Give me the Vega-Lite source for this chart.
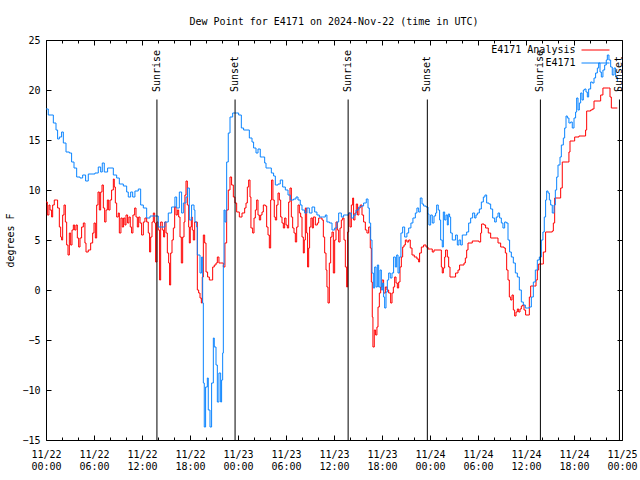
{
"$schema": "https://vega.github.io/schema/vega-lite/v6.json",
"width": 576, "height": 400,
"autosize": "none",
"padding": {"left": 46, "top": 40, "right": 18, "bottom": 40},
"title": {"text": "Dew Point for E4171 on 2024-Nov-22 (time in UTC)", "font": "DejaVu Sans Mono", "fontSize": 10, "fontWeight": "normal", "color": "black", "anchor": "middle", "baseline": "alphabetic", "offset": 0},
"config": {
  "font": "DejaVu Sans Mono",
  "view": {"stroke": "black", "strokeWidth": 1},
  "axis": {"domain": false, "grid": false, "labelFont": "DejaVu Sans Mono", "labelFontSize": 10, "labelColor": "black", "tickColor": "black", "tickWidth": 1, "titleFont": "DejaVu Sans Mono", "titleFontSize": 10, "titleFontWeight": "normal", "titleColor": "black"}
},
"datasets": {
"analysis": [
{"t":"2024-11-22T00:00Z","v":8.8},{"t":"2024-11-22T00:10Z","v":7.5},{"t":"2024-11-22T00:22Z","v":8.5},{"t":"2024-11-22T00:30Z","v":8.0},{"t":"2024-11-22T00:42Z","v":7.3},{"t":"2024-11-22T00:50Z","v":8.5},{"t":"2024-11-22T01:02Z","v":9.0},{"t":"2024-11-22T01:20Z","v":9.0},{"t":"2024-11-22T01:27Z","v":8.2},{"t":"2024-11-22T01:40Z","v":6.3},{"t":"2024-11-22T01:50Z","v":5.3},{"t":"2024-11-22T01:57Z","v":5.0},{"t":"2024-11-22T02:05Z","v":7.5},{"t":"2024-11-22T02:15Z","v":8.5},{"t":"2024-11-22T02:25Z","v":6.8},{"t":"2024-11-22T02:35Z","v":4.5},{"t":"2024-11-22T02:45Z","v":3.5},{"t":"2024-11-22T02:55Z","v":5.7},{"t":"2024-11-22T03:05Z","v":4.5},{"t":"2024-11-22T03:15Z","v":6.0},{"t":"2024-11-22T03:25Z","v":6.5},{"t":"2024-11-22T03:35Z","v":6.0},{"t":"2024-11-22T03:45Z","v":6.5},{"t":"2024-11-22T03:55Z","v":5.2},{"t":"2024-11-22T04:05Z","v":4.3},{"t":"2024-11-22T04:15Z","v":5.2},{"t":"2024-11-22T04:27Z","v":6.3},{"t":"2024-11-22T04:40Z","v":6.7},{"t":"2024-11-22T04:52Z","v":4.7},{"t":"2024-11-22T05:00Z","v":3.8},{"t":"2024-11-22T05:17Z","v":4.0},{"t":"2024-11-22T05:35Z","v":4.7},{"t":"2024-11-22T05:50Z","v":5.7},{"t":"2024-11-22T06:00Z","v":6.7},{"t":"2024-11-22T06:10Z","v":5.2},{"t":"2024-11-22T06:20Z","v":8.5},{"t":"2024-11-22T06:30Z","v":9.8},{"t":"2024-11-22T06:40Z","v":8.0},{"t":"2024-11-22T06:50Z","v":9.8},{"t":"2024-11-22T07:00Z","v":10.5},{"t":"2024-11-22T07:10Z","v":8.2},{"t":"2024-11-22T07:20Z","v":6.8},{"t":"2024-11-22T07:30Z","v":8.0},{"t":"2024-11-22T07:40Z","v":9.0},{"t":"2024-11-22T07:50Z","v":8.0},{"t":"2024-11-22T08:00Z","v":9.0},{"t":"2024-11-22T08:12Z","v":10.0},{"t":"2024-11-22T08:25Z","v":11.1},{"t":"2024-11-22T08:32Z","v":10.3},{"t":"2024-11-22T08:40Z","v":8.7},{"t":"2024-11-22T08:50Z","v":7.3},{"t":"2024-11-22T09:02Z","v":7.7},{"t":"2024-11-22T09:10Z","v":5.7},{"t":"2024-11-22T09:22Z","v":7.2},{"t":"2024-11-22T09:32Z","v":6.3},{"t":"2024-11-22T09:42Z","v":7.2},{"t":"2024-11-22T09:52Z","v":6.5},{"t":"2024-11-22T10:00Z","v":7.5},{"t":"2024-11-22T10:12Z","v":6.7},{"t":"2024-11-22T10:22Z","v":7.3},{"t":"2024-11-22T10:32Z","v":6.3},{"t":"2024-11-22T10:42Z","v":5.7},{"t":"2024-11-22T10:52Z","v":7.5},{"t":"2024-11-22T11:05Z","v":8.2},{"t":"2024-11-22T11:15Z","v":7.3},{"t":"2024-11-22T11:25Z","v":6.3},{"t":"2024-11-22T11:35Z","v":7.3},{"t":"2024-11-22T11:45Z","v":6.7},{"t":"2024-11-22T11:57Z","v":5.5},{"t":"2024-11-22T12:10Z","v":6.8},{"t":"2024-11-22T12:22Z","v":7.2},{"t":"2024-11-22T12:35Z","v":6.8},{"t":"2024-11-22T12:47Z","v":5.7},{"t":"2024-11-22T12:57Z","v":3.8},{"t":"2024-11-22T13:05Z","v":5.3},{"t":"2024-11-22T13:15Z","v":6.8},{"t":"2024-11-22T13:25Z","v":7.7},{"t":"2024-11-22T13:35Z","v":6.7},{"t":"2024-11-22T13:42Z","v":2.8},{"t":"2024-11-22T13:52Z","v":6.8},{"t":"2024-11-22T14:02Z","v":6.0},{"t":"2024-11-22T14:12Z","v":1.0},{"t":"2024-11-22T14:20Z","v":6.8},{"t":"2024-11-22T14:32Z","v":6.0},{"t":"2024-11-22T14:42Z","v":5.3},{"t":"2024-11-22T14:50Z","v":6.8},{"t":"2024-11-22T15:00Z","v":5.7},{"t":"2024-11-22T15:10Z","v":3.7},{"t":"2024-11-22T15:20Z","v":2.7},{"t":"2024-11-22T15:27Z","v":0.5},{"t":"2024-11-22T15:35Z","v":3.7},{"t":"2024-11-22T15:45Z","v":5.0},{"t":"2024-11-22T15:55Z","v":6.2},{"t":"2024-11-22T16:05Z","v":8.3},{"t":"2024-11-22T16:15Z","v":7.5},{"t":"2024-11-22T16:25Z","v":8.0},{"t":"2024-11-22T16:35Z","v":7.3},{"t":"2024-11-22T16:45Z","v":5.3},{"t":"2024-11-22T16:55Z","v":2.7},{"t":"2024-11-22T17:05Z","v":5.3},{"t":"2024-11-22T17:15Z","v":6.8},{"t":"2024-11-22T17:22Z","v":9.5},{"t":"2024-11-22T17:30Z","v":10.9},{"t":"2024-11-22T17:40Z","v":8.5},{"t":"2024-11-22T17:50Z","v":6.3},{"t":"2024-11-22T17:55Z","v":4.7},{"t":"2024-11-22T18:02Z","v":6.3},{"t":"2024-11-22T18:10Z","v":7.3},{"t":"2024-11-22T18:17Z","v":6.0},{"t":"2024-11-22T18:25Z","v":5.0},{"t":"2024-11-22T18:35Z","v":6.8},{"t":"2024-11-22T18:45Z","v":6.8},{"t":"2024-11-22T18:55Z","v":0.0},{"t":"2024-11-22T19:05Z","v":-0.3},{"t":"2024-11-22T19:15Z","v":-0.8},{"t":"2024-11-22T19:25Z","v":-1.3},{"t":"2024-11-22T19:32Z","v":1.3},{"t":"2024-11-22T19:40Z","v":5.5},{"t":"2024-11-22T19:50Z","v":4.7},{"t":"2024-11-22T20:00Z","v":1.8},{"t":"2024-11-22T20:12Z","v":1.3},{"t":"2024-11-22T20:25Z","v":1.0},{"t":"2024-11-22T20:40Z","v":1.0},{"t":"2024-11-22T20:50Z","v":2.3},{"t":"2024-11-22T21:02Z","v":2.5},{"t":"2024-11-22T21:15Z","v":2.7},{"t":"2024-11-22T21:25Z","v":3.3},{"t":"2024-11-22T21:37Z","v":2.7},{"t":"2024-11-22T21:52Z","v":2.7},{"t":"2024-11-22T22:10Z","v":2.3},{"t":"2024-11-22T22:22Z","v":4.7},{"t":"2024-11-22T22:35Z","v":8.0},{"t":"2024-11-22T22:47Z","v":10.0},{"t":"2024-11-22T23:00Z","v":11.3},{"t":"2024-11-22T23:12Z","v":10.5},{"t":"2024-11-22T23:25Z","v":9.3},{"t":"2024-11-22T23:37Z","v":8.7},{"t":"2024-11-22T23:50Z","v":7.8},
{"t":"2024-11-23T00:10Z","v":7.3},{"t":"2024-11-23T00:30Z","v":7.7},{"t":"2024-11-23T00:50Z","v":8.2},{"t":"2024-11-23T01:00Z","v":8.7},{"t":"2024-11-23T01:10Z","v":10.3},{"t":"2024-11-23T01:20Z","v":11.0},{"t":"2024-11-23T01:30Z","v":9.3},{"t":"2024-11-23T01:37Z","v":6.2},{"t":"2024-11-23T01:50Z","v":5.7},{"t":"2024-11-23T02:00Z","v":7.2},{"t":"2024-11-23T02:10Z","v":8.0},{"t":"2024-11-23T02:20Z","v":9.0},{"t":"2024-11-23T02:30Z","v":7.5},{"t":"2024-11-23T02:40Z","v":7.0},{"t":"2024-11-23T02:50Z","v":7.5},{"t":"2024-11-23T03:00Z","v":7.8},{"t":"2024-11-23T03:10Z","v":8.5},{"t":"2024-11-23T03:25Z","v":8.4},{"t":"2024-11-23T03:35Z","v":6.3},{"t":"2024-11-23T03:45Z","v":5.5},{"t":"2024-11-23T03:55Z","v":4.2},{"t":"2024-11-23T04:05Z","v":9.0},{"t":"2024-11-23T04:12Z","v":11.0},{"t":"2024-11-23T04:22Z","v":9.0},{"t":"2024-11-23T04:32Z","v":7.3},{"t":"2024-11-23T04:40Z","v":7.0},{"t":"2024-11-23T04:50Z","v":8.5},{"t":"2024-11-23T05:00Z","v":9.7},{"t":"2024-11-23T05:10Z","v":9.0},{"t":"2024-11-23T05:20Z","v":7.3},{"t":"2024-11-23T05:30Z","v":6.7},{"t":"2024-11-23T05:40Z","v":6.2},{"t":"2024-11-23T05:50Z","v":7.2},{"t":"2024-11-23T06:00Z","v":6.5},{"t":"2024-11-23T06:10Z","v":6.2},{"t":"2024-11-23T06:20Z","v":8.8},{"t":"2024-11-23T06:30Z","v":10.2},{"t":"2024-11-23T06:40Z","v":7.3},{"t":"2024-11-23T06:50Z","v":6.2},{"t":"2024-11-23T07:00Z","v":5.7},{"t":"2024-11-23T07:10Z","v":4.8},{"t":"2024-11-23T07:20Z","v":6.3},{"t":"2024-11-23T07:30Z","v":8.5},{"t":"2024-11-23T07:40Z","v":7.7},{"t":"2024-11-23T07:50Z","v":7.3},{"t":"2024-11-23T08:00Z","v":5.3},{"t":"2024-11-23T08:10Z","v":3.7},{"t":"2024-11-23T08:17Z","v":5.0},{"t":"2024-11-23T08:25Z","v":8.2},{"t":"2024-11-23T08:35Z","v":5.7},{"t":"2024-11-23T08:42Z","v":2.3},{"t":"2024-11-23T08:50Z","v":4.2},{"t":"2024-11-23T08:57Z","v":6.3},{"t":"2024-11-23T09:07Z","v":7.2},{"t":"2024-11-23T09:17Z","v":6.2},{"t":"2024-11-23T09:25Z","v":7.3},{"t":"2024-11-23T09:40Z","v":6.5},{"t":"2024-11-23T09:55Z","v":6.7},{"t":"2024-11-23T10:05Z","v":7.2},{"t":"2024-11-23T10:17Z","v":7.2},{"t":"2024-11-23T10:30Z","v":7.0},{"t":"2024-11-23T10:40Z","v":5.3},{"t":"2024-11-23T10:50Z","v":3.7},{"t":"2024-11-23T11:00Z","v":2.0},{"t":"2024-11-23T11:07Z","v":0.3},{"t":"2024-11-23T11:15Z","v":-1.3},{"t":"2024-11-23T11:25Z","v":2.7},{"t":"2024-11-23T11:35Z","v":5.3},{"t":"2024-11-23T11:45Z","v":5.8},{"t":"2024-11-23T11:55Z","v":1.7},{"t":"2024-11-23T12:05Z","v":5.0},{"t":"2024-11-23T12:15Z","v":6.8},{"t":"2024-11-23T12:25Z","v":6.0},{"t":"2024-11-23T12:35Z","v":4.8},{"t":"2024-11-23T12:45Z","v":6.2},{"t":"2024-11-23T12:55Z","v":7.0},{"t":"2024-11-23T13:05Z","v":7.2},{"t":"2024-11-23T13:15Z","v":5.0},{"t":"2024-11-23T13:25Z","v":2.3},{"t":"2024-11-23T13:35Z","v":0.3},{"t":"2024-11-23T13:42Z","v":5.8},{"t":"2024-11-23T13:50Z","v":7.7},{"t":"2024-11-23T14:00Z","v":6.3},{"t":"2024-11-23T14:10Z","v":8.5},{"t":"2024-11-23T14:20Z","v":9.2},{"t":"2024-11-23T14:27Z","v":7.0},{"t":"2024-11-23T14:37Z","v":7.7},{"t":"2024-11-23T14:47Z","v":8.6},{"t":"2024-11-23T14:57Z","v":7.5},{"t":"2024-11-23T15:07Z","v":8.2},{"t":"2024-11-23T15:17Z","v":8.5},{"t":"2024-11-23T15:30Z","v":7.5},{"t":"2024-11-23T15:42Z","v":6.8},{"t":"2024-11-23T15:55Z","v":6.0},{"t":"2024-11-23T16:07Z","v":5.7},{"t":"2024-11-23T16:20Z","v":6.3},{"t":"2024-11-23T16:32Z","v":4.2},{"t":"2024-11-23T16:40Z","v":0.8},{"t":"2024-11-23T16:47Z","v":-2.7},{"t":"2024-11-23T16:52Z","v":-5.7},{"t":"2024-11-23T17:02Z","v":-4.0},{"t":"2024-11-23T17:12Z","v":-4.5},{"t":"2024-11-23T17:22Z","v":-3.7},{"t":"2024-11-23T17:30Z","v":-1.7},{"t":"2024-11-23T17:40Z","v":-0.3},{"t":"2024-11-23T17:50Z","v":0.3},{"t":"2024-11-23T18:00Z","v":1.0},{"t":"2024-11-23T18:12Z","v":-0.3},{"t":"2024-11-23T18:25Z","v":0.3},{"t":"2024-11-23T18:37Z","v":0.0},{"t":"2024-11-23T18:50Z","v":-0.3},{"t":"2024-11-23T19:05Z","v":-1.3},{"t":"2024-11-23T19:15Z","v":-0.3},{"t":"2024-11-23T19:25Z","v":0.3},{"t":"2024-11-23T19:35Z","v":1.3},{"t":"2024-11-23T19:45Z","v":0.7},{"t":"2024-11-23T19:55Z","v":0.2},{"t":"2024-11-23T20:05Z","v":0.8},{"t":"2024-11-23T20:15Z","v":2.3},{"t":"2024-11-23T20:25Z","v":3.3},{"t":"2024-11-23T20:35Z","v":4.3},{"t":"2024-11-23T20:45Z","v":4.5},{"t":"2024-11-23T20:55Z","v":5.0},{"t":"2024-11-23T21:07Z","v":4.8},{"t":"2024-11-23T21:20Z","v":5.0},{"t":"2024-11-23T21:32Z","v":4.2},{"t":"2024-11-23T21:45Z","v":3.5},{"t":"2024-11-23T22:02Z","v":3.3},{"t":"2024-11-23T22:22Z","v":3.1},{"t":"2024-11-23T22:35Z","v":2.8},{"t":"2024-11-23T22:42Z","v":3.7},{"t":"2024-11-23T22:55Z","v":4.3},{"t":"2024-11-23T23:12Z","v":4.5},{"t":"2024-11-23T23:30Z","v":4.3},{"t":"2024-11-23T23:45Z","v":4.1},
{"t":"2024-11-24T00:05Z","v":4.1},{"t":"2024-11-24T00:17Z","v":3.8},{"t":"2024-11-24T00:30Z","v":4.0},{"t":"2024-11-24T01:15Z","v":4.0},{"t":"2024-11-24T01:25Z","v":2.3},{"t":"2024-11-24T01:32Z","v":1.7},{"t":"2024-11-24T01:40Z","v":2.2},{"t":"2024-11-24T01:50Z","v":3.3},{"t":"2024-11-24T01:57Z","v":4.0},{"t":"2024-11-24T02:10Z","v":3.3},{"t":"2024-11-24T02:20Z","v":2.3},{"t":"2024-11-24T02:30Z","v":1.3},{"t":"2024-11-24T02:55Z","v":1.3},{"t":"2024-11-24T03:12Z","v":1.7},{"t":"2024-11-24T03:30Z","v":2.0},{"t":"2024-11-24T03:42Z","v":2.5},{"t":"2024-11-24T04:00Z","v":2.5},{"t":"2024-11-24T04:15Z","v":2.7},{"t":"2024-11-24T04:25Z","v":3.2},{"t":"2024-11-24T04:35Z","v":4.0},{"t":"2024-11-24T04:45Z","v":4.7},{"t":"2024-11-24T05:17Z","v":4.9},{"t":"2024-11-24T06:07Z","v":4.8},{"t":"2024-11-24T06:20Z","v":5.7},{"t":"2024-11-24T06:27Z","v":6.6},{"t":"2024-11-24T06:45Z","v":6.5},{"t":"2024-11-24T06:57Z","v":6.2},{"t":"2024-11-24T07:17Z","v":5.7},{"t":"2024-11-24T07:35Z","v":5.2},{"t":"2024-11-24T08:17Z","v":5.2},{"t":"2024-11-24T08:30Z","v":4.7},{"t":"2024-11-24T08:50Z","v":4.3},{"t":"2024-11-24T09:15Z","v":4.2},{"t":"2024-11-24T09:25Z","v":3.7},{"t":"2024-11-24T09:35Z","v":2.0},{"t":"2024-11-24T09:45Z","v":1.0},{"t":"2024-11-24T09:55Z","v":-0.7},{"t":"2024-11-24T10:05Z","v":-1.0},{"t":"2024-11-24T10:15Z","v":-0.5},{"t":"2024-11-24T10:25Z","v":-2.0},{"t":"2024-11-24T10:35Z","v":-2.6},{"t":"2024-11-24T10:45Z","v":-2.2},{"t":"2024-11-24T10:55Z","v":-1.9},{"t":"2024-11-24T11:05Z","v":-2.2},{"t":"2024-11-24T11:15Z","v":-1.9},{"t":"2024-11-24T11:25Z","v":-1.6},{"t":"2024-11-24T11:35Z","v":-1.5},{"t":"2024-11-24T11:45Z","v":-2.0},{"t":"2024-11-24T11:57Z","v":-2.5},{"t":"2024-11-24T12:15Z","v":-2.5},{"t":"2024-11-24T12:25Z","v":-0.7},{"t":"2024-11-24T12:35Z","v":0.4},{"t":"2024-11-24T13:05Z","v":0.4},{"t":"2024-11-24T13:15Z","v":1.0},{"t":"2024-11-24T13:25Z","v":2.0},{"t":"2024-11-24T13:35Z","v":2.6},{"t":"2024-11-24T14:02Z","v":2.6},{"t":"2024-11-24T14:10Z","v":3.8},{"t":"2024-11-24T14:27Z","v":5.8},{"t":"2024-11-24T15:17Z","v":5.9},{"t":"2024-11-24T15:25Z","v":6.7},{"t":"2024-11-24T15:35Z","v":9.2},{"t":"2024-11-24T16:07Z","v":9.2},{"t":"2024-11-24T16:20Z","v":10.2},{"t":"2024-11-24T16:32Z","v":12.8},{"t":"2024-11-24T17:10Z","v":12.8},{"t":"2024-11-24T17:22Z","v":13.8},{"t":"2024-11-24T17:30Z","v":14.9},{"t":"2024-11-24T17:55Z","v":14.9},{"t":"2024-11-24T18:05Z","v":15.3},{"t":"2024-11-24T18:37Z","v":15.4},{"t":"2024-11-24T19:15Z","v":15.4},{"t":"2024-11-24T19:27Z","v":16.0},{"t":"2024-11-24T19:35Z","v":17.9},{"t":"2024-11-24T20:05Z","v":18.0},{"t":"2024-11-24T20:17Z","v":18.1},{"t":"2024-11-24T20:30Z","v":18.9},{"t":"2024-11-24T21:07Z","v":18.9},{"t":"2024-11-24T21:20Z","v":19.5},{"t":"2024-11-24T21:37Z","v":20.2},{"t":"2024-11-24T22:17Z","v":20.2},{"t":"2024-11-24T22:30Z","v":19.3},{"t":"2024-11-24T22:40Z","v":18.2},{"t":"2024-11-24T23:25Z","v":18.2}
],
"obs": [
{"t":"2024-11-22T00:00Z","v":18.1},{"t":"2024-11-22T00:17Z","v":17.5},{"t":"2024-11-22T00:55Z","v":16.7},{"t":"2024-11-22T01:15Z","v":16.0},{"t":"2024-11-22T01:27Z","v":15.1},{"t":"2024-11-22T01:40Z","v":15.3},{"t":"2024-11-22T01:57Z","v":15.8},{"t":"2024-11-22T02:10Z","v":14.7},{"t":"2024-11-22T02:30Z","v":13.8},{"t":"2024-11-22T02:55Z","v":13.7},{"t":"2024-11-22T03:12Z","v":12.8},{"t":"2024-11-22T03:30Z","v":12.2},{"t":"2024-11-22T03:50Z","v":11.3},{"t":"2024-11-22T04:15Z","v":11.2},{"t":"2024-11-22T04:35Z","v":11.5},{"t":"2024-11-22T04:57Z","v":10.9},{"t":"2024-11-22T05:17Z","v":11.6},{"t":"2024-11-22T06:07Z","v":11.7},{"t":"2024-11-22T06:32Z","v":12.3},{"t":"2024-11-22T06:50Z","v":11.8},{"t":"2024-11-22T07:02Z","v":12.7},{"t":"2024-11-22T07:17Z","v":11.8},{"t":"2024-11-22T07:42Z","v":12.2},{"t":"2024-11-22T08:00Z","v":12.2},{"t":"2024-11-22T08:25Z","v":11.5},{"t":"2024-11-22T08:50Z","v":11.2},{"t":"2024-11-22T09:10Z","v":10.6},{"t":"2024-11-22T09:40Z","v":10.4},{"t":"2024-11-22T10:05Z","v":9.8},{"t":"2024-11-22T10:17Z","v":9.3},{"t":"2024-11-22T10:35Z","v":9.8},{"t":"2024-11-22T10:50Z","v":9.3},{"t":"2024-11-22T11:07Z","v":9.9},{"t":"2024-11-22T11:32Z","v":10.1},{"t":"2024-11-22T11:50Z","v":8.5},{"t":"2024-11-22T12:10Z","v":8.2},{"t":"2024-11-22T12:35Z","v":7.2},{"t":"2024-11-22T13:00Z","v":7.4},{"t":"2024-11-22T13:37Z","v":7.4},{"t":"2024-11-22T14:02Z","v":6.3},{"t":"2024-11-22T14:27Z","v":6.3},{"t":"2024-11-22T14:52Z","v":6.8},{"t":"2024-11-22T15:17Z","v":7.7},{"t":"2024-11-22T15:42Z","v":8.3},{"t":"2024-11-22T16:07Z","v":9.3},{"t":"2024-11-22T16:20Z","v":8.2},{"t":"2024-11-22T16:40Z","v":9.8},{"t":"2024-11-22T16:57Z","v":7.7},{"t":"2024-11-22T17:10Z","v":8.7},{"t":"2024-11-22T17:30Z","v":9.3},{"t":"2024-11-22T17:42Z","v":10.2},{"t":"2024-11-22T17:55Z","v":7.0},{"t":"2024-11-22T18:12Z","v":8.5},{"t":"2024-11-22T18:30Z","v":8.0},{"t":"2024-11-22T18:37Z","v":6.8},{"t":"2024-11-22T18:50Z","v":6.3},{"t":"2024-11-22T18:55Z","v":3.5},{"t":"2024-11-22T19:15Z","v":1.7},{"t":"2024-11-22T19:27Z","v":3.3},{"t":"2024-11-22T19:35Z","v":-1.3},{"t":"2024-11-22T19:40Z","v":-9.3},{"t":"2024-11-22T19:47Z","v":-13.7},{"t":"2024-11-22T19:57Z","v":-9.7},{"t":"2024-11-22T20:10Z","v":-8.8},{"t":"2024-11-22T20:17Z","v":-12.0},{"t":"2024-11-22T20:30Z","v":-13.7},{"t":"2024-11-22T20:42Z","v":-9.3},{"t":"2024-11-22T20:55Z","v":-4.8},{"t":"2024-11-22T21:02Z","v":-5.7},{"t":"2024-11-22T21:15Z","v":-7.5},{"t":"2024-11-22T21:25Z","v":-11.2},{"t":"2024-11-22T21:37Z","v":-8.3},{"t":"2024-11-22T21:50Z","v":-11.2},{"t":"2024-11-22T21:57Z","v":-9.0},{"t":"2024-11-22T22:05Z","v":-6.3},{"t":"2024-11-22T22:10Z","v":2.5},{"t":"2024-11-22T22:15Z","v":8.0},{"t":"2024-11-22T22:22Z","v":6.8},{"t":"2024-11-22T22:30Z","v":8.0},{"t":"2024-11-22T22:35Z","v":12.8},{"t":"2024-11-22T22:47Z","v":15.7},{"t":"2024-11-22T23:00Z","v":17.3},{"t":"2024-11-22T23:20Z","v":17.7},{"t":"2024-11-22T23:50Z","v":17.7},
{"t":"2024-11-23T00:05Z","v":17.5},{"t":"2024-11-23T00:25Z","v":16.2},{"t":"2024-11-23T00:42Z","v":16.0},{"t":"2024-11-23T01:15Z","v":16.0},{"t":"2024-11-23T01:25Z","v":15.2},{"t":"2024-11-23T01:45Z","v":14.8},{"t":"2024-11-23T01:57Z","v":14.2},{"t":"2024-11-23T02:15Z","v":13.7},{"t":"2024-11-23T02:30Z","v":14.1},{"t":"2024-11-23T02:47Z","v":13.3},{"t":"2024-11-23T03:05Z","v":13.3},{"t":"2024-11-23T03:20Z","v":12.7},{"t":"2024-11-23T03:30Z","v":12.2},{"t":"2024-11-23T03:55Z","v":12.2},{"t":"2024-11-23T04:10Z","v":11.7},{"t":"2024-11-23T04:27Z","v":11.4},{"t":"2024-11-23T04:40Z","v":10.5},{"t":"2024-11-23T05:00Z","v":10.6},{"t":"2024-11-23T05:17Z","v":11.0},{"t":"2024-11-23T05:35Z","v":10.3},{"t":"2024-11-23T05:55Z","v":10.0},{"t":"2024-11-23T06:15Z","v":9.5},{"t":"2024-11-23T06:32Z","v":9.0},{"t":"2024-11-23T06:57Z","v":9.1},{"t":"2024-11-23T07:15Z","v":9.3},{"t":"2024-11-23T07:30Z","v":9.0},{"t":"2024-11-23T07:47Z","v":8.5},{"t":"2024-11-23T08:00Z","v":8.0},{"t":"2024-11-23T08:20Z","v":7.7},{"t":"2024-11-23T08:37Z","v":8.2},{"t":"2024-11-23T08:55Z","v":7.7},{"t":"2024-11-23T09:15Z","v":8.3},{"t":"2024-11-23T09:35Z","v":7.8},{"t":"2024-11-23T09:52Z","v":7.5},{"t":"2024-11-23T10:10Z","v":7.3},{"t":"2024-11-23T10:35Z","v":7.3},{"t":"2024-11-23T10:55Z","v":7.5},{"t":"2024-11-23T11:07Z","v":6.8},{"t":"2024-11-23T11:27Z","v":6.7},{"t":"2024-11-23T11:45Z","v":6.0},{"t":"2024-11-23T12:05Z","v":6.2},{"t":"2024-11-23T12:22Z","v":6.8},{"t":"2024-11-23T12:35Z","v":7.7},{"t":"2024-11-23T12:55Z","v":7.3},{"t":"2024-11-23T13:12Z","v":7.5},{"t":"2024-11-23T13:32Z","v":7.5},{"t":"2024-11-23T13:50Z","v":7.7},{"t":"2024-11-23T14:10Z","v":7.2},{"t":"2024-11-23T14:27Z","v":7.5},{"t":"2024-11-23T14:45Z","v":8.0},{"t":"2024-11-23T15:05Z","v":8.3},{"t":"2024-11-23T15:25Z","v":8.4},{"t":"2024-11-23T15:42Z","v":8.7},{"t":"2024-11-23T16:02Z","v":9.1},{"t":"2024-11-23T16:15Z","v":8.2},{"t":"2024-11-23T16:25Z","v":6.7},{"t":"2024-11-23T16:35Z","v":5.0},{"t":"2024-11-23T16:45Z","v":1.7},{"t":"2024-11-23T16:55Z","v":0.2},{"t":"2024-11-23T17:05Z","v":2.3},{"t":"2024-11-23T17:15Z","v":0.3},{"t":"2024-11-23T17:25Z","v":2.5},{"t":"2024-11-23T17:35Z","v":0.3},{"t":"2024-11-23T17:45Z","v":2.0},{"t":"2024-11-23T17:55Z","v":0.0},{"t":"2024-11-23T18:05Z","v":0.7},{"t":"2024-11-23T18:12Z","v":-0.7},{"t":"2024-11-23T18:20Z","v":-1.8},{"t":"2024-11-23T18:30Z","v":-0.2},{"t":"2024-11-23T18:40Z","v":1.0},{"t":"2024-11-23T18:50Z","v":1.7},{"t":"2024-11-23T19:02Z","v":1.2},{"t":"2024-11-23T19:15Z","v":1.7},{"t":"2024-11-23T19:27Z","v":3.3},{"t":"2024-11-23T19:40Z","v":2.3},{"t":"2024-11-23T19:50Z","v":3.5},{"t":"2024-11-23T20:00Z","v":1.7},{"t":"2024-11-23T20:10Z","v":3.3},{"t":"2024-11-23T20:22Z","v":5.7},{"t":"2024-11-23T20:35Z","v":6.3},{"t":"2024-11-23T20:50Z","v":5.3},{"t":"2024-11-23T21:07Z","v":5.7},{"t":"2024-11-23T21:20Z","v":6.2},{"t":"2024-11-23T21:37Z","v":6.7},{"t":"2024-11-23T21:52Z","v":7.2},{"t":"2024-11-23T22:10Z","v":7.7},{"t":"2024-11-23T22:22Z","v":8.2},{"t":"2024-11-23T22:35Z","v":7.8},{"t":"2024-11-23T22:47Z","v":9.2},{"t":"2024-11-23T23:00Z","v":8.6},{"t":"2024-11-23T23:12Z","v":8.4},{"t":"2024-11-23T23:30Z","v":8.3},{"t":"2024-11-23T23:45Z","v":7.6},{"t":"2024-11-23T23:52Z","v":6.5},
{"t":"2024-11-24T00:05Z","v":7.5},{"t":"2024-11-24T00:17Z","v":6.7},{"t":"2024-11-24T00:30Z","v":7.4},{"t":"2024-11-24T00:42Z","v":7.7},{"t":"2024-11-24T00:50Z","v":8.5},{"t":"2024-11-24T01:02Z","v":8.0},{"t":"2024-11-24T01:12Z","v":7.0},{"t":"2024-11-24T01:20Z","v":5.0},{"t":"2024-11-24T01:32Z","v":4.3},{"t":"2024-11-24T01:40Z","v":7.8},{"t":"2024-11-24T01:50Z","v":7.0},{"t":"2024-11-24T02:00Z","v":7.5},{"t":"2024-11-24T02:10Z","v":6.5},{"t":"2024-11-24T02:17Z","v":7.6},{"t":"2024-11-24T02:27Z","v":7.3},{"t":"2024-11-24T02:35Z","v":5.7},{"t":"2024-11-24T02:47Z","v":5.0},{"t":"2024-11-24T03:00Z","v":5.0},{"t":"2024-11-24T03:12Z","v":5.5},{"t":"2024-11-24T03:25Z","v":4.5},{"t":"2024-11-24T03:37Z","v":5.0},{"t":"2024-11-24T03:50Z","v":4.5},{"t":"2024-11-24T04:02Z","v":5.5},{"t":"2024-11-24T04:20Z","v":5.5},{"t":"2024-11-24T04:35Z","v":5.8},{"t":"2024-11-24T04:50Z","v":6.7},{"t":"2024-11-24T05:05Z","v":7.2},{"t":"2024-11-24T05:20Z","v":7.7},{"t":"2024-11-24T05:35Z","v":7.2},{"t":"2024-11-24T05:45Z","v":7.5},{"t":"2024-11-24T05:55Z","v":7.7},{"t":"2024-11-24T06:10Z","v":8.1},{"t":"2024-11-24T06:25Z","v":8.8},{"t":"2024-11-24T06:40Z","v":9.3},{"t":"2024-11-24T06:52Z","v":9.5},{"t":"2024-11-24T07:05Z","v":8.7},{"t":"2024-11-24T07:22Z","v":8.6},{"t":"2024-11-24T07:35Z","v":8.1},{"t":"2024-11-24T07:50Z","v":7.2},{"t":"2024-11-24T08:05Z","v":6.8},{"t":"2024-11-24T08:17Z","v":7.3},{"t":"2024-11-24T08:30Z","v":7.7},{"t":"2024-11-24T08:42Z","v":7.2},{"t":"2024-11-24T08:55Z","v":6.7},{"t":"2024-11-24T09:07Z","v":6.2},{"t":"2024-11-24T09:20Z","v":6.8},{"t":"2024-11-24T09:32Z","v":6.7},{"t":"2024-11-24T09:45Z","v":5.0},{"t":"2024-11-24T09:57Z","v":3.8},{"t":"2024-11-24T10:10Z","v":3.3},{"t":"2024-11-24T10:25Z","v":2.7},{"t":"2024-11-24T10:40Z","v":1.7},{"t":"2024-11-24T10:55Z","v":1.3},{"t":"2024-11-24T11:10Z","v":0.0},{"t":"2024-11-24T11:25Z","v":-1.2},{"t":"2024-11-24T11:40Z","v":-1.5},{"t":"2024-11-24T11:55Z","v":-1.8},{"t":"2024-11-24T12:10Z","v":-1.8},{"t":"2024-11-24T12:25Z","v":-1.7},{"t":"2024-11-24T12:40Z","v":-0.7},{"t":"2024-11-24T12:55Z","v":0.8},{"t":"2024-11-24T13:10Z","v":2.0},{"t":"2024-11-24T13:25Z","v":3.0},{"t":"2024-11-24T13:40Z","v":3.3},{"t":"2024-11-24T13:55Z","v":5.0},{"t":"2024-11-24T14:07Z","v":5.8},{"t":"2024-11-24T14:17Z","v":7.3},{"t":"2024-11-24T14:27Z","v":9.0},{"t":"2024-11-24T14:35Z","v":9.9},{"t":"2024-11-24T14:45Z","v":9.7},{"t":"2024-11-24T14:55Z","v":9.0},{"t":"2024-11-24T15:05Z","v":8.5},{"t":"2024-11-24T15:17Z","v":7.7},{"t":"2024-11-24T15:30Z","v":8.5},{"t":"2024-11-24T15:40Z","v":10.0},{"t":"2024-11-24T15:50Z","v":11.3},{"t":"2024-11-24T16:00Z","v":12.5},{"t":"2024-11-24T16:15Z","v":13.3},{"t":"2024-11-24T16:25Z","v":14.5},{"t":"2024-11-24T16:40Z","v":15.2},{"t":"2024-11-24T16:50Z","v":16.2},{"t":"2024-11-24T17:00Z","v":17.4},{"t":"2024-11-24T17:10Z","v":17.2},{"t":"2024-11-24T17:22Z","v":16.7},{"t":"2024-11-24T17:35Z","v":16.8},{"t":"2024-11-24T17:47Z","v":16.2},{"t":"2024-11-24T18:00Z","v":17.2},{"t":"2024-11-24T18:12Z","v":17.8},{"t":"2024-11-24T18:20Z","v":19.2},{"t":"2024-11-24T18:30Z","v":18.0},{"t":"2024-11-24T18:40Z","v":18.7},{"t":"2024-11-24T18:50Z","v":19.7},{"t":"2024-11-24T19:00Z","v":19.0},{"t":"2024-11-24T19:10Z","v":20.0},{"t":"2024-11-24T19:20Z","v":20.1},{"t":"2024-11-24T19:30Z","v":19.8},{"t":"2024-11-24T19:40Z","v":19.3},{"t":"2024-11-24T19:50Z","v":20.1},{"t":"2024-11-24T20:05Z","v":20.8},{"t":"2024-11-24T20:17Z","v":20.7},{"t":"2024-11-24T20:30Z","v":21.2},{"t":"2024-11-24T20:42Z","v":21.7},{"t":"2024-11-24T20:55Z","v":22.2},{"t":"2024-11-24T21:05Z","v":22.7},{"t":"2024-11-24T21:15Z","v":21.8},{"t":"2024-11-24T21:25Z","v":21.3},{"t":"2024-11-24T21:37Z","v":22.0},{"t":"2024-11-24T21:50Z","v":22.5},{"t":"2024-11-24T22:02Z","v":23.0},{"t":"2024-11-24T22:10Z","v":23.5},{"t":"2024-11-24T22:22Z","v":23.0},{"t":"2024-11-24T22:35Z","v":22.3},{"t":"2024-11-24T22:47Z","v":21.5},{"t":"2024-11-24T23:00Z","v":22.2},{"t":"2024-11-24T23:12Z","v":21.3},{"t":"2024-11-24T23:25Z","v":20.8}
],
"sun": [
{"t":"2024-11-22T13:52Z","event":"Sunrise"},{"t":"2024-11-22T23:38Z","event":"Sunset"},{"t":"2024-11-23T13:46Z","event":"Sunrise"},{"t":"2024-11-23T23:40Z","event":"Sunset"},{"t":"2024-11-24T13:48Z","event":"Sunrise"},{"t":"2024-11-24T23:41Z","event":"Sunset"}
]
},
"layer": [
{"data": {"name": "analysis"},
 "mark": {"type": "line", "interpolate": "step-after", "strokeWidth": 1},
 "encoding": {
  "x": {"field": "t", "type": "temporal", "scale": {"type": "utc", "nice": false, "domain": [1732233600000, 1732492800000]},
        "axis": {"orient": "bottom", "title": null, "values": [1732233600000,1732240800000,1732248000000,1732255200000,1732262400000,1732269600000,1732276800000,1732284000000,1732291200000,1732298400000,1732305600000,1732312800000,1732320000000,1732327200000,1732334400000,1732341600000,1732348800000,1732356000000,1732363200000,1732370400000,1732377600000,1732384800000,1732392000000,1732399200000,1732406400000,1732413600000,1732420800000,1732428000000,1732435200000,1732442400000,1732449600000,1732456800000,1732464000000,1732471200000,1732478400000,1732485600000,1732492800000], "tickSize": -5, "tickDash": {"condition": {"test": "utchours(datum.value) % 6 === 0", "value": [5, 0]}, "value": [3, 10]}, "labelExpr": "utchours(datum.value) % 6 === 0 ? [utcFormat(datum.value, '%m/%d'), utcFormat(datum.value, '%H:%M')] : ''", "labelAlign": "center", "labelBaseline": "top", "labelPadding": 14, "labelLineHeight": 12, "labelFlush": false, "labelOverlap": false, "labelBound": false}},
  "y": {"field": "v", "type": "quantitative", "scale": {"domain": [-15, 25], "nice": false, "zero": false},
        "axis": {"orient": "left", "title": "degrees F", "values": [-15, -10, -5, 0, 5, 10, 15, 20, 25], "tickSize": -5, "labelPadding": 11, "titlePadding": 6}},
  "color": {"datum": "E4171 Analysis", "scale": {"domain": ["E4171 Analysis", "E4171"], "range": ["#ff0000", "#0a84ff"]},
            "legend": {"orient": "none", "legendX": 544, "legendY": 4.5, "padding": 0, "title": null, "symbolType": "M-2.8,0H2.8", "symbolSize": 100, "symbolStrokeWidth": 1, "labelAlign": "right", "labelOffset": -25.5, "labelFont": "DejaVu Sans Mono", "labelFontSize": 10, "labelColor": "black", "rowPadding": 2}}
 }},
{"data": {"name": "obs"},
 "mark": {"type": "line", "interpolate": "step-after", "strokeWidth": 1},
 "encoding": {
  "x": {"field": "t", "type": "temporal",
        "axis": {"orient": "top", "title": null, "labels": false, "values": [1732233600000,1732240800000,1732248000000,1732255200000,1732262400000,1732269600000,1732276800000,1732284000000,1732291200000,1732298400000,1732305600000,1732312800000,1732320000000,1732327200000,1732334400000,1732341600000,1732348800000,1732356000000,1732363200000,1732370400000,1732377600000,1732384800000,1732392000000,1732399200000,1732406400000,1732413600000,1732420800000,1732428000000,1732435200000,1732442400000,1732449600000,1732456800000,1732464000000,1732471200000,1732478400000,1732485600000,1732492800000], "tickSize": -5, "tickDash": {"condition": {"test": "utchours(datum.value) % 6 === 0", "value": [5, 0]}, "value": [3, 10]}}},
  "y": {"field": "v", "type": "quantitative",
        "axis": {"orient": "right", "title": null, "labels": false, "values": [-15, -10, -5, 0, 5, 10, 15, 20, 25], "tickSize": -5}},
  "color": {"datum": "E4171"}
 }},
{"data": {"name": "sun"},
 "mark": {"type": "rule", "color": "black", "strokeWidth": 1},
 "encoding": {
  "x": {"field": "t", "type": "temporal", "axis": null},
  "y": {"datum": 19.05, "axis": null},
  "y2": {"datum": -15}
 }},
{"data": {"name": "sun"},
 "mark": {"type": "text", "angle": 270, "align": "left", "baseline": "middle", "font": "DejaVu Sans Mono", "fontSize": 10, "color": "black"},
 "encoding": {
  "x": {"field": "t", "type": "temporal", "axis": null},
  "y": {"datum": 19.8, "axis": null},
  "text": {"field": "event"}
 }}
],
"resolve": {"axis": {"x": "independent", "y": "independent"}}
}
